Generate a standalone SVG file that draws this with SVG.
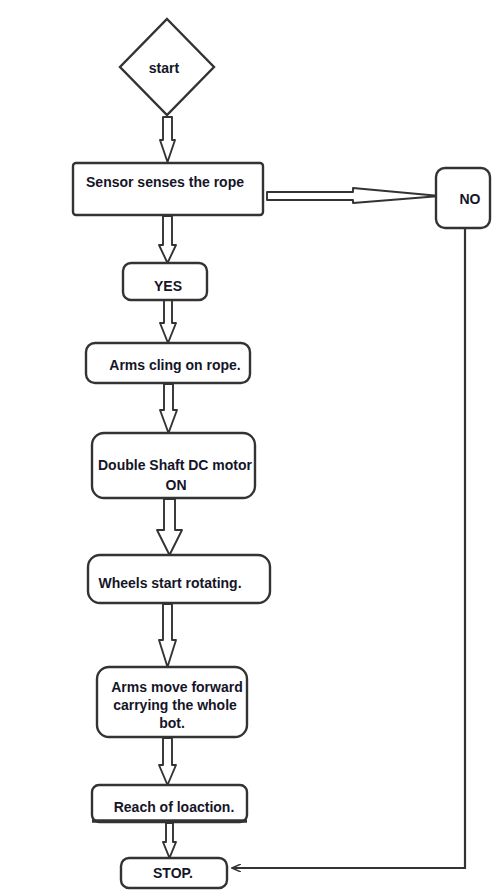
<svg xmlns="http://www.w3.org/2000/svg" width="500" height="894" viewBox="0 0 500 894">
<defs>
<style>
.node{fill:#fff;stroke:#333;stroke-width:2.4}
.blk{fill:#fff;stroke:#333;stroke-width:1.9;stroke-linejoin:round}
.ln{fill:none;stroke:#333;stroke-width:2.2}
.t{font-family:"Liberation Sans",Arial,sans-serif;font-weight:bold;font-size:14px;fill:#151528;text-anchor:middle}
</style>
<marker id="ah" markerWidth="10" markerHeight="8" refX="9" refY="4" orient="auto" markerUnits="userSpaceOnUse">
<path d="M0,0 L9,4 L0,8" fill="none" stroke="#333" stroke-width="1.5"/>
</marker>
</defs>
<rect width="500" height="894" fill="#fff"/>
<g id="connectors">
<path class="blk" d="M163,117 H172 V140 H175 L167.5,162 L160,140 H163 Z"/>
<path class="blk" d="M163,216 H172 V245 H176 L167.5,263 L159,245 H163 Z"/>
<path class="blk" d="M164,300 H172 V323 H176 L168,343 L160,323 H164 Z"/>
<path class="blk" d="M164,384 H173 V410 H177 L168.5,433 L160,410 H164 Z"/>
<path class="blk" d="M164,499 H175 V530 H182 L169.5,555 L157,530 H164 Z"/>
<path class="blk" d="M163,604 H172 V640 H176 L167.5,667 L159,640 H163 Z"/>
<path class="blk" d="M163,738 H172 V765 H176 L167.5,785 L159,765 H163 Z"/>
<path class="blk" d="M166,823 H173 V842 H176 L169.5,858 L163,842 H166 Z"/>
<path class="blk" d="M267,192 H353 V188 L440,196 L353,203 V200 H267 Z"/>
<polyline class="ln" points="465,228 465,868 232,868" marker-end="url(#ah)"/>
</g>
<g id="start">
<polygon class="node" points="167,19 214,67 167,115 120,67"/>
<text class="t" x="164" y="73">start</text>
</g>
<g id="sensor">
<rect class="node" x="73" y="163" width="190" height="52" rx="3"/>
<text class="t" x="165" y="187">Sensor senses the rope</text>
</g>
<g id="no">
<rect class="node" x="436" y="168" width="54" height="60" rx="9"/>
<text class="t" x="470" y="204">NO</text>
</g>
<g id="yes">
<rect class="node" x="123" y="263" width="84" height="37" rx="8"/>
<text class="t" x="168" y="291">YES</text>
</g>
<g id="arms-cling">
<rect class="node" x="86" y="343" width="164" height="40" rx="9"/>
<text class="t" x="175" y="370">Arms cling on rope.</text>
</g>
<g id="motor">
<rect class="node" x="92" y="433" width="163" height="65" rx="12"/>
<text class="t" x="175" y="470">Double Shaft DC motor</text>
<text class="t" x="176" y="490">ON</text>
</g>
<g id="wheels">
<rect class="node" x="88" y="555" width="182" height="48" rx="12"/>
<text class="t" x="170" y="588">Wheels start rotating.</text>
</g>
<g id="arms-move">
<rect class="node" x="97" y="667" width="150" height="70" rx="12"/>
<text class="t" x="177" y="692">Arms move forward</text>
<text class="t" x="175" y="710">carrying the whole</text>
<text class="t" x="172" y="728">bot.</text>
</g>
<g id="reach">
<rect class="node" x="92" y="785" width="155" height="37" rx="7"/>
<line x1="92" y1="821" x2="247" y2="821" stroke="#333" stroke-width="3.5"/>
<text class="t" x="174" y="812">Reach of loaction.</text>
</g>
<g id="stop">
<rect class="node" x="121" y="858" width="106" height="30" rx="8"/>
<text class="t" x="173" y="878">STOP.</text>
</g>
</svg>
